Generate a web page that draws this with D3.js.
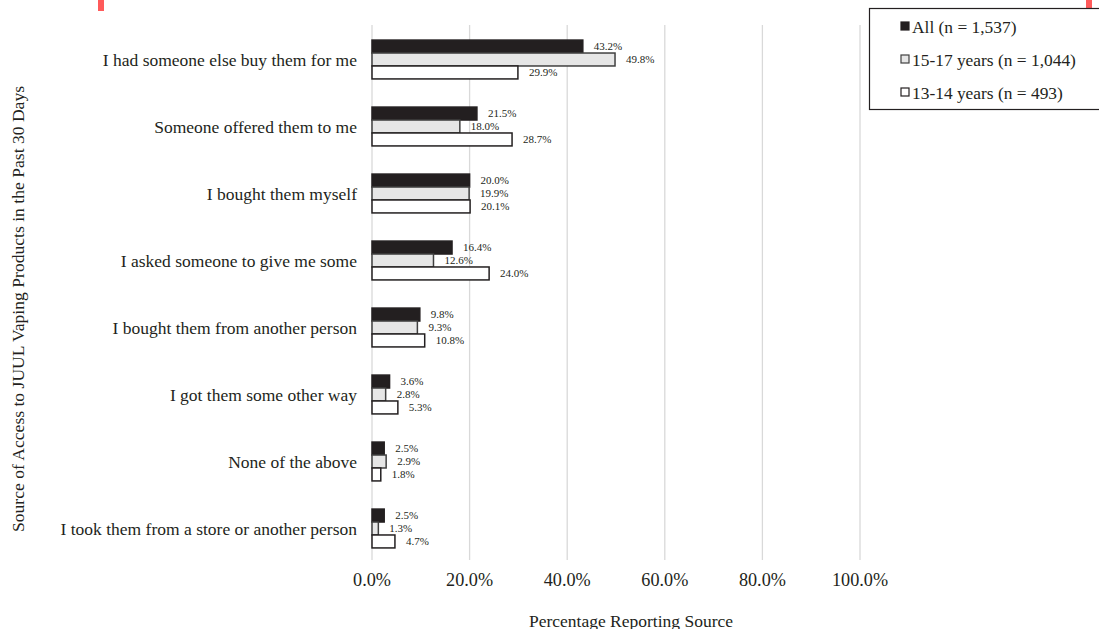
<!DOCTYPE html>
<html>
<head>
<meta charset="utf-8">
<script src="https://cdn.jsdelivr.net/npm/d3@7"></script>
<style>
  body { margin: 0; background: #fff; }
  text { font-family: "Liberation Serif", "DejaVu Serif", serif; fill: #231f20; }
</style>
</head>
<body>
<div id="wrapper"></div>
<script>
const categories = [
  "I had someone else buy them for me",
  "Someone offered them to me",
  "I bought them myself",
  "I asked someone to give me some",
  "I bought them from another person",
  "I got them some other way",
  "None of the above",
  "I took them from a store or another person"
]
const seriesNames = ["All (n = 1,537)", "15-17 years (n = 1,044)", "13-14 years (n = 493)"]
const allValues = [43.2, 21.5, 20.0, 16.4, 9.8, 3.6, 2.5, 2.5]
const age1517Values = [49.8, 18.0, 19.9, 12.6, 9.3, 2.8, 2.9, 1.3]
const age1314Values = [29.9, 28.7, 20.1, 24.0, 10.8, 5.3, 1.8, 4.7]
const xTicks = [0, 20, 40, 60, 80, 100]

const seriesValues = [allValues, age1517Values, age1314Values]
const fills = ["#231f20", "#e6e6e6", "#ffffff"]
const strokes = ["#231f20", "#404040", "#231f20"]

const width = 1099, height = 629

const svg = d3.select("#wrapper").append("svg")
    .attr("width", width)
    .attr("height", height)

// small red marks at the top edge of the original
svg.append("rect").attr("x", 98).attr("y", 0).attr("width", 6).attr("height", 11).attr("fill", "#ff5a5a")
svg.append("rect").attr("x", 1086).attr("y", 0).attr("width", 6).attr("height", 11).attr("fill", "#ff5a5a")

const xScale = d3.scaleLinear().domain([0, 100]).range([372, 860])
const yScale = d3.scaleBand().domain(categories).range([26, 562]).paddingInner(0.42).paddingOuter(0.21)
const inner = d3.scaleBand().domain(d3.range(3)).range([0, yScale.bandwidth()])

// gridlines
svg.append("g").selectAll("line")
    .data(xTicks)
    .join("line")
        .attr("x1", d => xScale(d))
        .attr("x2", d => xScale(d))
        .attr("y1", 25)
        .attr("y2", 560)
        .attr("stroke", "#d9d9d9")
        .attr("stroke-width", 1.3)

// tick labels
svg.append("g").selectAll("text")
    .data(xTicks)
    .join("text")
        .attr("x", d => xScale(d))
        .attr("y", 586)
        .attr("text-anchor", "middle")
        .style("font-size", "18.2px")
        .text(d => d.toFixed(1) + "%")

// category labels
svg.append("g").selectAll("text")
    .data(categories)
    .join("text")
        .attr("x", 357)
        .attr("y", d => yScale(d) + yScale.bandwidth() / 2)
        .attr("dy", "0.35em")
        .attr("text-anchor", "end")
        .style("font-size", "17.5px")
        .text(d => d)

// bars
seriesValues.forEach((values, s) => {
    const g = svg.append("g")
    g.selectAll("rect")
        .data(values)
        .join("rect")
            .attr("x", xScale(0))
            .attr("y", (d, i) => yScale(categories[i]) + inner(s))
            .attr("width", d => xScale(d) - xScale(0))
            .attr("height", inner.bandwidth())
            .attr("fill", fills[s])
            .attr("stroke", strokes[s])
            .attr("stroke-width", 1.5)
    g.selectAll("text")
        .data(values)
        .join("text")
            .attr("x", d => xScale(d) + 11)
            .attr("y", (d, i) => yScale(categories[i]) + inner(s) + inner.bandwidth() / 2)
            .attr("dy", "0.3em")
            .style("font-size", "11px")
            .text(d => d.toFixed(1) + "%")
})

// axis titles
svg.append("text")
    .attr("x", 631)
    .attr("y", 627)
    .attr("text-anchor", "middle")
    .style("font-size", "17.5px")
    .text("Percentage Reporting Source")

svg.append("text")
    .attr("transform", "translate(24, 309) rotate(-90)")
    .attr("text-anchor", "middle")
    .style("font-size", "17.6px")
    .text("Source of Access to JUUL Vaping Products in the Past 30 Days")

// legend
const legend = svg.append("g")
legend.append("rect")
    .attr("x", 869.5).attr("y", 8.5)
    .attr("width", 240).attr("height", 101)
    .attr("fill", "#fff").attr("stroke", "#231f20").attr("stroke-width", 1.2)
seriesNames.forEach((name, s) => {
    const y = 27 + s * 33
    legend.append("rect")
        .attr("x", 901).attr("y", y - 5)
        .attr("width", 8).attr("height", 8)
        .attr("fill", fills[s]).attr("stroke", strokes[s]).attr("stroke-width", 1.2)
    legend.append("text")
        .attr("x", 912).attr("y", y)
        .attr("dy", "0.35em")
        .style("font-size", "17.4px")
        .text(name)
})
</script>
</body>
</html>
